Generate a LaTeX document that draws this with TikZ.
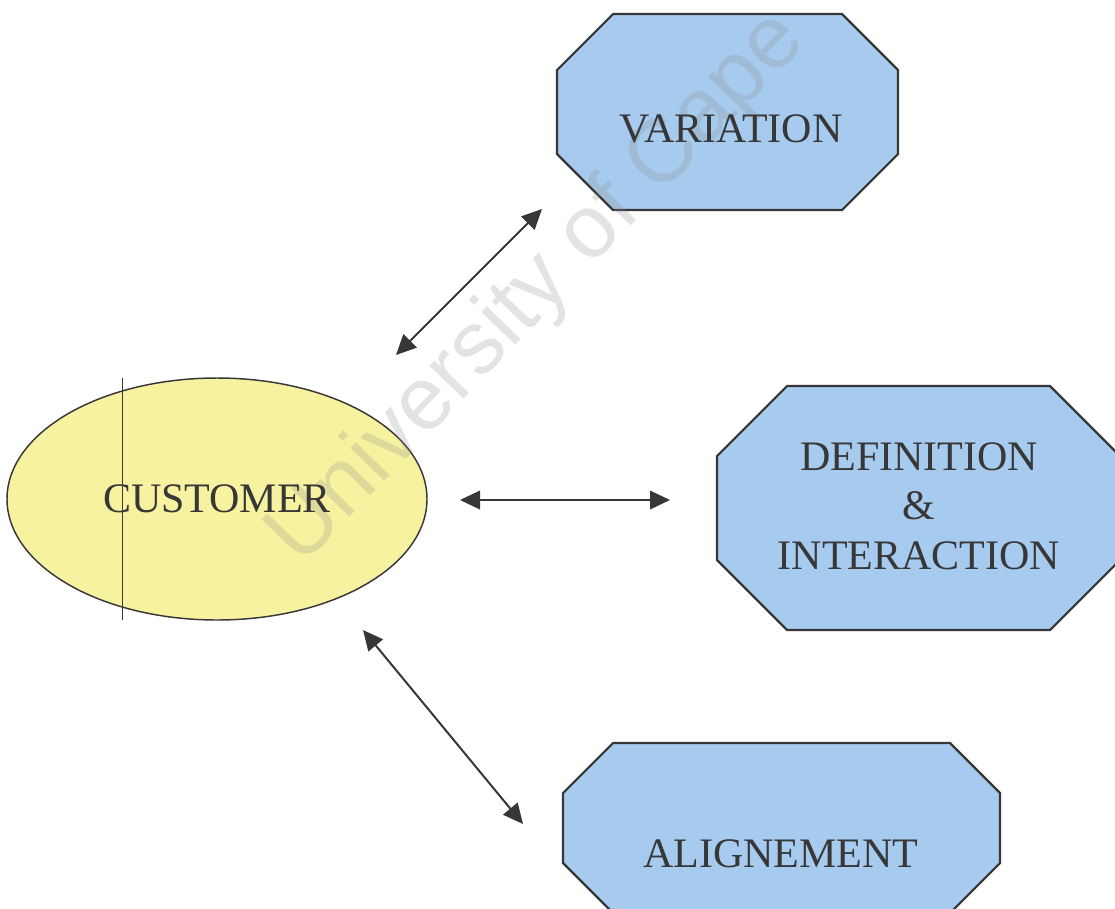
\documentclass[tikz,border=0pt]{standalone}
\usepackage{fontspec}
\setmainfont{Liberation Serif}
\setsansfont{Liberation Sans}
\usetikzlibrary{shapes.geometric,arrows.meta}

\definecolor{boxblue}{RGB}{166,203,238}
\definecolor{custyellow}{RGB}{247,242,160}
\definecolor{inkgray}{RGB}{55,55,55}
\definecolor{markgray}{RGB}{140,140,140}

\tikzset{
	octarea/.style={rectangle, inner sep=0pt, outer sep=0pt},
	octline/.style={draw=inkgray, line width=1.6pt, fill=boxblue, line join=miter},
	custshape/.style={ellipse, draw=inkgray, line width=1.1pt, fill=custyellow, inner sep=0pt},
	boxtext/.style={anchor=base, text=inkgray, align=center,
		font=\fontsize{31.5}{37}\selectfont},
	link/.style={inkgray, line width=1.5pt,
		{Triangle[length=15pt, width=14pt]}-{Triangle[length=15pt, width=14pt]}},
}

% octagon round a node: #1 node name, #2 corner cut
\newcommand{\octframe}[2]{%
	\filldraw[octline] ([xshift=#2]#1.north west) -- ([xshift=-#2]#1.north east)
		-- ([yshift=-#2]#1.north east) -- ([yshift=#2]#1.south east)
		-- ([xshift=-#2]#1.south east) -- ([xshift=#2]#1.south west)
		-- ([yshift=#2]#1.south west) -- ([yshift=-#2]#1.north west) -- cycle;}

\begin{document}
\begin{tikzpicture}[x=0.75pt, y=-0.75pt]
	\useasboundingbox (0,0) rectangle (1115,908);
	\clip (0,0) rectangle (1115,908);

	% shapes
	\node[custshape, minimum width=315pt, minimum height=181.5pt] (cust) at (217,499) {};
	\node[octarea, minimum width=255.75pt, minimum height=147pt] (var) at (727.5,112) {};
	\node[octarea, minimum width=302.25pt, minimum height=183pt] (def) at (918.5,508) {};
	\node[octarea, minimum width=327.75pt, minimum height=127.5pt] (ali) at (781.5,828) {};
	\octframe{var}{42pt}
	\octframe{def}{52.5pt}
	\octframe{ali}{37.5pt}

	% thin scan line through the ellipse
	\draw[inkgray, line width=0.6pt] (122,378) -- (122,620);

	% watermark
	\node[rotate=46, text=markgray, text opacity=0.24,
		font=\sffamily\fontsize{67}{67}\selectfont] (wmark) at (538,289) {University of Cape};

	% labels
	\node[boxtext] (custtxt) at (217,512) {CUSTOMER};
	\node[boxtext] (vartxt) at (731,142) {VARIATION};
	\node[boxtext] (deftxt) at (919,569) {DEFINITION\\\&\\INTERACTION};
	\node[boxtext] (alitxt) at (781,867) {ALIGNEMENT};

	% arrow ends
	\coordinate (cv1) at (396,355);
	\coordinate (cv2) at (542,209);
	\coordinate (cd1) at (460,500);
	\coordinate (cd2) at (670,500);
	\coordinate (ca1) at (363,630);
	\coordinate (ca2) at (523,824);

	\draw[link] (cv1) -- (cv2);
	\draw[link, line width=1pt] (cd1) -- (cd2);
	\draw[link] (ca1) -- (ca2);
\end{tikzpicture}
\end{document}
